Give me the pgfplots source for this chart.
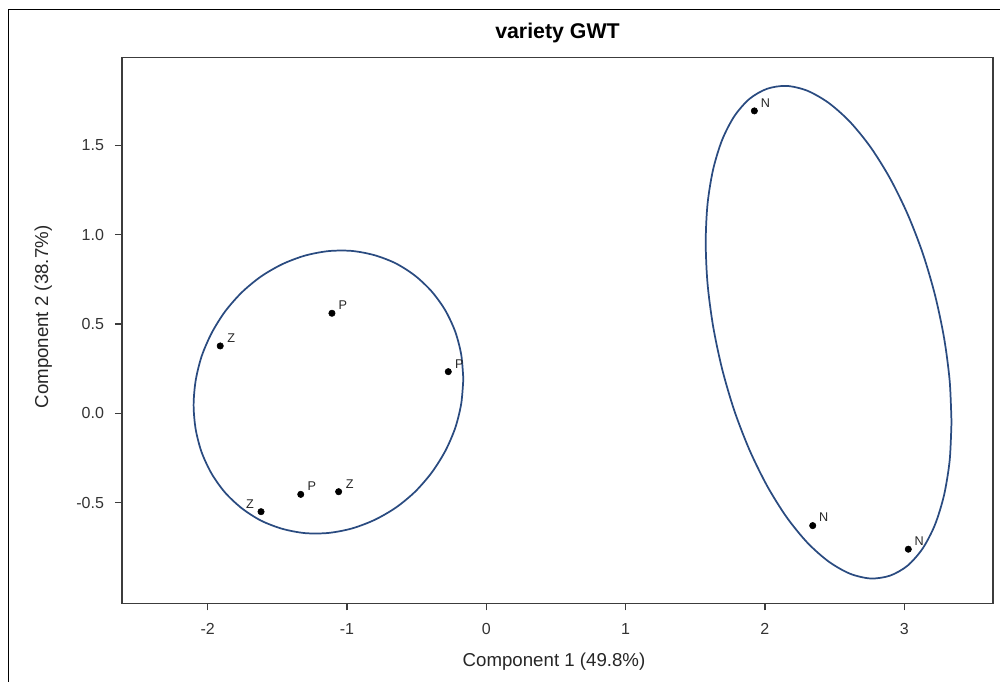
\documentclass[border=0pt]{standalone}
\usepackage{pgfplots}
\pgfplotsset{compat=1.18}
\usepackage{fontspec}
\setmainfont{Liberation Sans}
\definecolor{ellcol}{RGB}{42,75,128}
\definecolor{axcol}{RGB}{60,60,60}
\begin{document}
\begin{tikzpicture}
\useasboundingbox (0,0) rectangle (750pt,511.5pt);
\draw[line width=1pt,black] (6.375pt,0) -- (6.375pt,504.5pt) -- (750pt,504.5pt);
\begin{axis}[
  at={(91.5pt,58.875pt)}, anchor=south west,
  scale only axis, width=653.25pt, height=409.5pt,
  xmin=-2.615, xmax=3.637, ymin=-1.065, ymax=1.992,
  axis line style={axcol, line width=0.9pt},
  tick style={axcol, line width=0.9pt},
  tick align=outside, major tick length=5.25pt,
  xtick pos=bottom, ytick pos=left,
  xtick={-2,-1,0,1,2,3}, xticklabels={-2,-1,0,1,2,3},
  ytick={-0.5,0,0.5,1,1.5}, yticklabels={-0.5,0.0,0.5,1.0,1.5},
  ticklabel style={font=\fontsize{12}{14}\selectfont, text=black!80},
  xticklabel style={yshift=-5.9pt},
  yticklabel style={xshift=-4.75pt},
  title={variety GWT},
  title style={font=\bfseries\fontsize{16}{19}\selectfont, at={(axis description cs:0.5,1.0198)}, anchor=base},
  xlabel={Component 1 (49.8\%)},
  ylabel={Component 2 (38.7\%)},
  label style={font=\fontsize{14}{17}\selectfont, text=black!85},
  xlabel style={at={(axis description cs:0.496,-0.1158)}, anchor=base},
  ylabel style={at={(axis description cs:-0.0847,0.5247)}, anchor=base},
  clip=false,
]
% confidence ellipses
\addplot[ellcol, line width=1.3pt, smooth] coordinates {
(-0.165,0.192) (-0.180,0.328) (-0.223,0.457) (-0.295,0.577) (-0.392,0.682) (-0.511,0.770)
(-0.649,0.839) (-0.802,0.885) (-0.965,0.909) (-1.133,0.908) (-1.301,0.883) (-1.464,0.835)
(-1.617,0.766) (-1.755,0.677) (-1.875,0.570) (-1.971,0.450) (-2.043,0.320) (-2.086,0.184)
(-2.101,0.046) (-2.086,-0.090) (-2.043,-0.219) (-1.971,-0.339) (-1.875,-0.444) (-1.755,-0.532)
(-1.617,-0.601) (-1.464,-0.647) (-1.301,-0.671) (-1.133,-0.670) (-0.965,-0.645) (-0.802,-0.597)
(-0.649,-0.528) (-0.511,-0.439) (-0.392,-0.332) (-0.295,-0.212) (-0.223,-0.082) (-0.180,0.054)
(-0.165,0.192)
};
\addplot[ellcol, line width=1.3pt, smooth] coordinates {
(3.339,-0.049) (3.326,0.182) (3.286,0.421) (3.221,0.661) (3.133,0.895) (3.024,1.115)
(2.898,1.315) (2.759,1.489) (2.610,1.632) (2.457,1.738) (2.304,1.806) (2.155,1.833)
(2.016,1.817) (1.890,1.761) (1.781,1.664) (1.693,1.531) (1.628,1.365) (1.588,1.172)
(1.575,0.957) (1.588,0.726) (1.628,0.487) (1.693,0.247) (1.781,0.013) (1.890,-0.207)
(2.016,-0.407) (2.155,-0.581) (2.304,-0.724) (2.457,-0.830) (2.610,-0.898) (2.759,-0.925)
(2.898,-0.909) (3.024,-0.853) (3.133,-0.756) (3.221,-0.623) (3.286,-0.457) (3.326,-0.264)
(3.339,-0.049)
};
% points labelled to the upper right
\addplot[only marks, mark=*, mark size=2.4pt, black,
  nodes near coords, point meta=explicit symbolic,
  nodes near coords style={font=\fontsize{9.5}{11}\selectfont, text=black!85, anchor=center, xshift=8.25pt, yshift=6pt}]
  table[meta=lab] {
x y lab
1.924 1.693 N
-1.108 0.560 P
-1.910 0.377 Z
-0.273 0.233 P
-1.332 -0.454 P
-1.060 -0.439 Z
2.343 -0.629 N
3.029 -0.761 N
};
% point labelled to the upper left
\addplot[only marks, mark=*, mark size=2.4pt, black,
  nodes near coords, point meta=explicit symbolic,
  nodes near coords style={font=\fontsize{9.5}{11}\selectfont, text=black!85, anchor=center, xshift=-8.25pt, yshift=6pt}]
  table[meta=lab] {
x y lab
-1.617 -0.551 Z
};
\end{axis}
\end{tikzpicture}
\end{document}
